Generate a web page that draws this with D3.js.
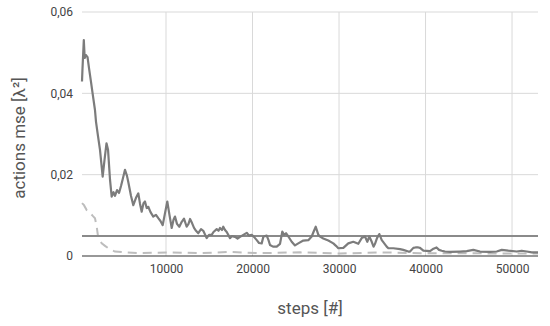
<!DOCTYPE html>
<html>
<head>
<meta charset="utf-8">
<script src="https://cdn.jsdelivr.net/npm/d3@7"></script>
<style>
  body { margin: 0; background: #fff; }
  svg { display: block; font-family: Roboto, "Noto Sans", sans-serif; }
</style>
</head>
<body>
<svg id="chart" width="550" height="326"></svg>
<script>
// Training curve: actions mse over steps
const steps = [290, 350, 500, 600, 750, 930, 1100, 1330, 1560, 1790, 1910, 2140, 2370, 2680, 2890, 3120, 3300, 3530, 3720, 3930,
  4100, 4340, 4570, 4800, 5030, 5260, 5490, 5640, 5950, 6220, 6530, 6800, 7000, 7190, 7400, 7570, 7770, 7950, 8210, 8530,
  8840, 9110, 9360, 9620, 9890, 10150, 10400, 10660, 10870, 11040, 11270, 11540, 11820, 12080, 12390, 12600, 12780, 13010, 13240, 13470,
  13730, 14050, 14310, 14700, 14970, 15280, 15490, 15860, 16070, 16240, 16470, 16620, 16820, 17020, 17400, 17630, 17980, 18270, 18560, 18940,
  19330, 19600, 19910, 20170, 20490, 20750, 21060, 21250, 21440, 21640, 21850, 22020, 22370, 22800, 23180, 23440, 23640, 23870, 24140, 24530,
  24910, 25290, 25870, 26450, 26840, 27050, 27310, 27610, 27860, 28180, 28760, 29340, 29650, 29920, 30500, 31070, 31650, 32230, 32620, 33000,
  33270, 33500, 33780, 33990, 34160, 34390, 34660, 34940, 35120, 35510, 35700, 36280, 37050, 37430, 38010, 38210, 38590, 38840, 39170, 39360,
  39750, 40520, 40920, 41270, 41560, 41870, 42250, 42830, 43990, 44760, 45520, 46300, 47460, 48230, 48810, 49570, 50540, 51120, 51700, 52280,
  53000];
const mse = [0.0429, 0.0462, 0.0531, 0.0487, 0.0494, 0.0489, 0.0462, 0.0428, 0.0393, 0.0359, 0.0330, 0.0295, 0.0261, 0.0195, 0.0236, 0.0277, 0.0261, 0.0187, 0.0146, 0.0157,
  0.0148, 0.0162, 0.0155, 0.0172, 0.0192, 0.0212, 0.0197, 0.0182, 0.0148, 0.0125, 0.0143, 0.0154, 0.0128, 0.0109, 0.0130, 0.0134, 0.0118, 0.0121, 0.0108, 0.0097,
  0.0101, 0.0093, 0.0086, 0.0076, 0.0106, 0.0134, 0.0101, 0.0069, 0.0089, 0.0097, 0.0079, 0.0072, 0.0084, 0.0092, 0.0072, 0.0079, 0.0091, 0.0081, 0.0069, 0.0062,
  0.0056, 0.0066, 0.0062, 0.0044, 0.0052, 0.0052, 0.0059, 0.0066, 0.0062, 0.0069, 0.0064, 0.0072, 0.0064, 0.0059, 0.0044, 0.0049, 0.0047, 0.0043, 0.0047, 0.0052,
  0.0057, 0.0050, 0.0052, 0.0047, 0.0039, 0.0032, 0.0031, 0.0047, 0.0049, 0.0050, 0.0039, 0.0027, 0.0023, 0.0023, 0.0030, 0.0060, 0.0052, 0.0056, 0.0048, 0.0035,
  0.0026, 0.0031, 0.0038, 0.0039, 0.0048, 0.0059, 0.0072, 0.0052, 0.0047, 0.0043, 0.0038, 0.0031, 0.0025, 0.0019, 0.0020, 0.0031, 0.0035, 0.0030, 0.0044, 0.0048,
  0.0035, 0.0048, 0.0035, 0.0023, 0.0030, 0.0044, 0.0054, 0.0039, 0.0034, 0.0023, 0.0019, 0.0019, 0.0017, 0.0015, 0.0011, 0.0011, 0.0020, 0.0021, 0.0021, 0.0020,
  0.0013, 0.0012, 0.0018, 0.0021, 0.0015, 0.0013, 0.0011, 0.0010, 0.0011, 0.0012, 0.0015, 0.0011, 0.0010, 0.0011, 0.0015, 0.0013, 0.0011, 0.0013, 0.0011, 0.0009,
  0.0009];

// dashed baseline series
const baseSteps = [290, 520, 830, 1220, 1560, 1790, 1990, 2170, 2570, 2950, 3330, 4100, 5260, 7000, 10460, 13930, 17400, 20870, 25490, 30120, 34740, 39360, 43990, 48610, 53000];
const baseMse = [0.0130, 0.0125, 0.0113, 0.0106, 0.0098, 0.0093, 0.0072, 0.0044, 0.0031, 0.0025, 0.0019, 0.0011, 0.0009, 0.0007, 0.0009, 0.0007, 0.0010, 0.0007, 0.0009, 0.0006, 0.0009, 0.0007, 0.0007, 0.0006, 0.0006];

// horizontal reference level
const refLevel = 0.0049;

const xTicks = [10000, 20000, 30000, 40000, 50000];
const yTicks = [0, 0.02, 0.04, 0.06];

const margin = { top: 12, right: 12, bottom: 70, left: 82 };
const width = 550, height = 326;

const svg = d3.select('#chart');
const x = d3.scaleLinear().domain([290, 53000]).range([margin.left, width - margin.right]);
const y = d3.scaleLinear().domain([0, 0.06]).range([height - margin.bottom, margin.top]);

const comma = d3.formatLocale({ decimal: ',', thousands: '', grouping: [3], currency: ['', ''] });
const yFmt = d => d === 0 ? '0' : comma.format('.2f')(d);

// grid
svg.append('g').selectAll('line').data(yTicks.filter(d => d > 0)).join('line')
  .attr('x1', x.range()[0]).attr('x2', x.range()[1])
  .attr('y1', d => y(d)).attr('y2', d => y(d))
  .attr('stroke', '#d9d9d9').attr('stroke-width', 1);

svg.append('g').selectAll('line').data(xTicks).join('line')
  .attr('x1', d => x(d)).attr('x2', d => x(d))
  .attr('y1', y(0)).attr('y2', y(0.06))
  .attr('stroke', '#d9d9d9').attr('stroke-width', 1);

// axes (labels only, lines drawn by hand)
const yAxis = svg.append('g').attr('transform', `translate(${margin.left - 6},0)`)
  .call(d3.axisLeft(y).tickValues(yTicks).tickFormat(yFmt).tickSize(0));
yAxis.select('.domain').remove();
yAxis.selectAll('text').attr('font-size', 12).attr('fill', '#444').attr('font-family', 'Roboto');

const xAxis = svg.append('g').attr('transform', `translate(0,${y(0) + 5})`)
  .call(d3.axisBottom(x).tickValues(xTicks).tickFormat(d3.format('d')).tickSize(0));
xAxis.select('.domain').remove();
xAxis.selectAll('text').attr('font-size', 12).attr('fill', '#444').attr('font-family', 'Roboto');

// series
const line = d3.line().x(d => x(d[0])).y(d => y(d[1]));

svg.append('path')
  .datum(baseSteps.map((s, i) => [s, baseMse[i]]))
  .attr('d', line)
  .attr('fill', 'none').attr('stroke', '#bdbdbd').attr('stroke-width', 2)
  .attr('stroke-dasharray', '9,6');

svg.append('line')
  .attr('x1', x.range()[0]).attr('x2', x.range()[1])
  .attr('y1', y(refLevel)).attr('y2', y(refLevel))
  .attr('stroke', '#8a8a8a').attr('stroke-width', 2);

svg.append('path')
  .datum(steps.map((s, i) => [s, mse[i]]))
  .attr('d', line)
  .attr('fill', 'none').attr('stroke', '#7c7c7c').attr('stroke-width', 2.2)
  .attr('stroke-linejoin', 'round');

// baseline axis
svg.append('line')
  .attr('x1', x.range()[0]).attr('x2', x.range()[1])
  .attr('y1', y(0)).attr('y2', y(0))
  .attr('stroke', '#333').attr('stroke-width', 1.2);

// titles
svg.append('text')
  .attr('x', (x.range()[0] + x.range()[1]) / 2).attr('y', 314)
  .attr('text-anchor', 'middle').attr('font-size', 17).attr('fill', '#555')
  .text('steps [#]');

svg.append('text')
  .attr('transform', `translate(25,${(y(0) + y(0.06)) / 2 + 4}) rotate(-90)`)
  .attr('text-anchor', 'middle').attr('font-size', 17).attr('fill', '#555')
  .text('actions mse [λ²]');
</script>
</body>
</html>
